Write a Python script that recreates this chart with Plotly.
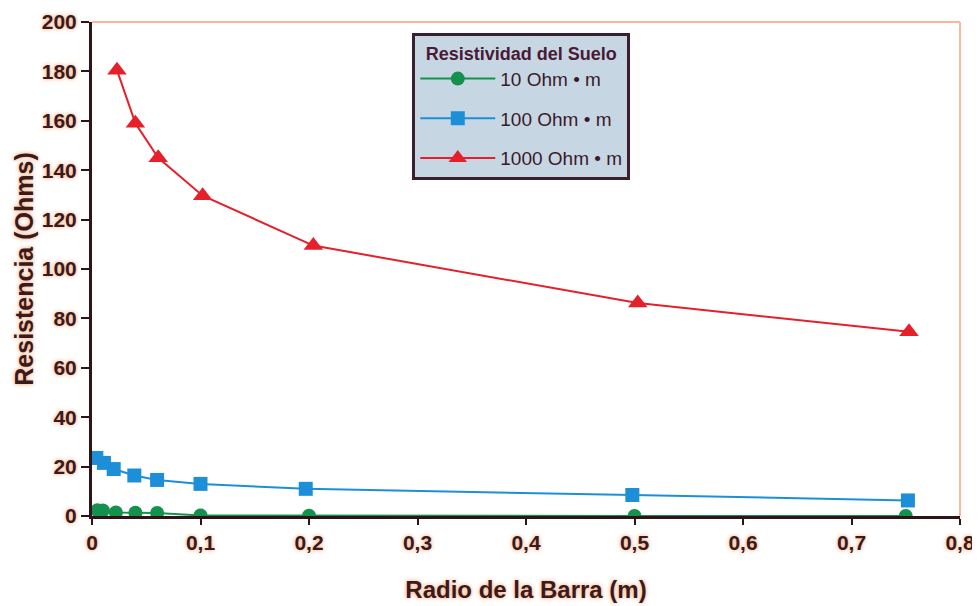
import plotly.graph_objects as go

# Data
x_10 = [0.005, 0.01, 0.022, 0.04, 0.06, 0.1, 0.2, 0.5, 0.75]
y_10 = [2.3, 2.2, 1.4, 1.3, 1.2, 0.2, 0.1, 0.0, 0.0]

x_100 = [0.004, 0.011, 0.02, 0.039, 0.06, 0.1, 0.197, 0.498, 0.752]
y_100 = [23.5, 21.5, 19.0, 16.4, 14.6, 13.0, 11.0, 8.5, 6.3]

x_1000 = [0.023, 0.04, 0.061, 0.102, 0.204, 0.503, 0.753]
y_1000 = [180.5, 159.0, 145.0, 129.7, 109.5, 86.2, 74.6]

series_names = ["10 Ohm \u2022 m", "100 Ohm \u2022 m", "1000 Ohm \u2022 m"]
x_ticks = [0, 0.1, 0.2, 0.3, 0.4, 0.5, 0.6, 0.7, 0.8]
y_ticks = [0, 20, 40, 60, 80, 100, 120, 140, 160, 180, 200]

TXT = "#3b1a1c"
GLOW = "0px 0px 4px #f29a66"
FONT = "Liberation Sans, Arial, sans-serif"

fig = go.Figure()
fig.add_trace(go.Scatter(x=x_10, y=y_10, mode="lines+markers", name=series_names[0],
                         legendgroup="a",
                         line=dict(color="#14914c", width=2),
                         marker=dict(symbol="circle", size=14, color="#14914c")))
fig.add_trace(go.Scatter(x=x_100, y=y_100, mode="lines+markers", name=series_names[1],
                         legendgroup="b",
                         line=dict(color="#1d8fd8", width=2),
                         marker=dict(symbol="square", size=14, color="#1d8fd8")))
fig.add_trace(go.Scatter(x=x_1000, y=y_1000, mode="lines+markers", name=series_names[2],
                         legendgroup="c",
                         line=dict(color="#e5202b", width=2),
                         marker=dict(symbol="triangle-up", size=17, color="#e5202b")))

# peach frame on top and right of the plot area
fig.add_shape(type="line", xref="x domain", yref="y domain", x0=0, x1=1, y0=1, y1=1,
              line=dict(color="#f7b999", width=2), layer="below")
fig.add_shape(type="line", xref="x domain", yref="y domain", x0=1, x1=1, y0=0, y1=1,
              line=dict(color="#f7b999", width=2), layer="below")

fig.update_layout(
    width=972, height=606,
    margin=dict(l=84, r=20, t=14, b=98),
    paper_bgcolor="white", plot_bgcolor="white",
    separators=",.",
    font=dict(family=FONT, color=TXT),
    showlegend=True,
    legend=dict(
        x=0.369, y=0.977, xanchor="left", yanchor="top",
        bgcolor="#c6d7e3", bordercolor="#3a1f2c", borderwidth=3,
        font=dict(size=19, color="#3b1a2a", family=FONT),
        title=dict(text="<b>Resistividad del Suelo</b>", side="top center",
                   font=dict(size=18, color="#4a1a36", family=FONT)),
        tracegroupgap=12, itemwidth=75,
    ),
    xaxis=dict(
        range=[0, 0.8], tickvals=x_ticks, showgrid=False, zeroline=False,
        automargin=False,
        showline=True, linecolor="#2e1416", linewidth=3,
        ticks="outside", ticklen=6, tickwidth=2, tickcolor="#2e1416",
        tickfont=dict(size=21, family=FONT, color=TXT, weight="bold", shadow=GLOW),
        title=dict(text="Radio de la Barra (m)", standoff=28,
                   font=dict(size=24, family=FONT, color=TXT, weight="bold", shadow=GLOW)),
    ),
    yaxis=dict(
        range=[0, 200], tickvals=y_ticks, showgrid=False, zeroline=False,
        automargin=False,
        showline=True, linecolor="#2e1416", linewidth=3,
        ticks="outside", ticklen=8, tickwidth=2, tickcolor="#2e1416",
        tickfont=dict(size=21, family=FONT, color=TXT, weight="bold", shadow=GLOW),
        title=dict(text="Resistencia (Ohms)", standoff=2,
                   font=dict(size=25, family=FONT, color=TXT, weight="bold", shadow=GLOW)),
    ),
)

fig.write_html("out.html")
